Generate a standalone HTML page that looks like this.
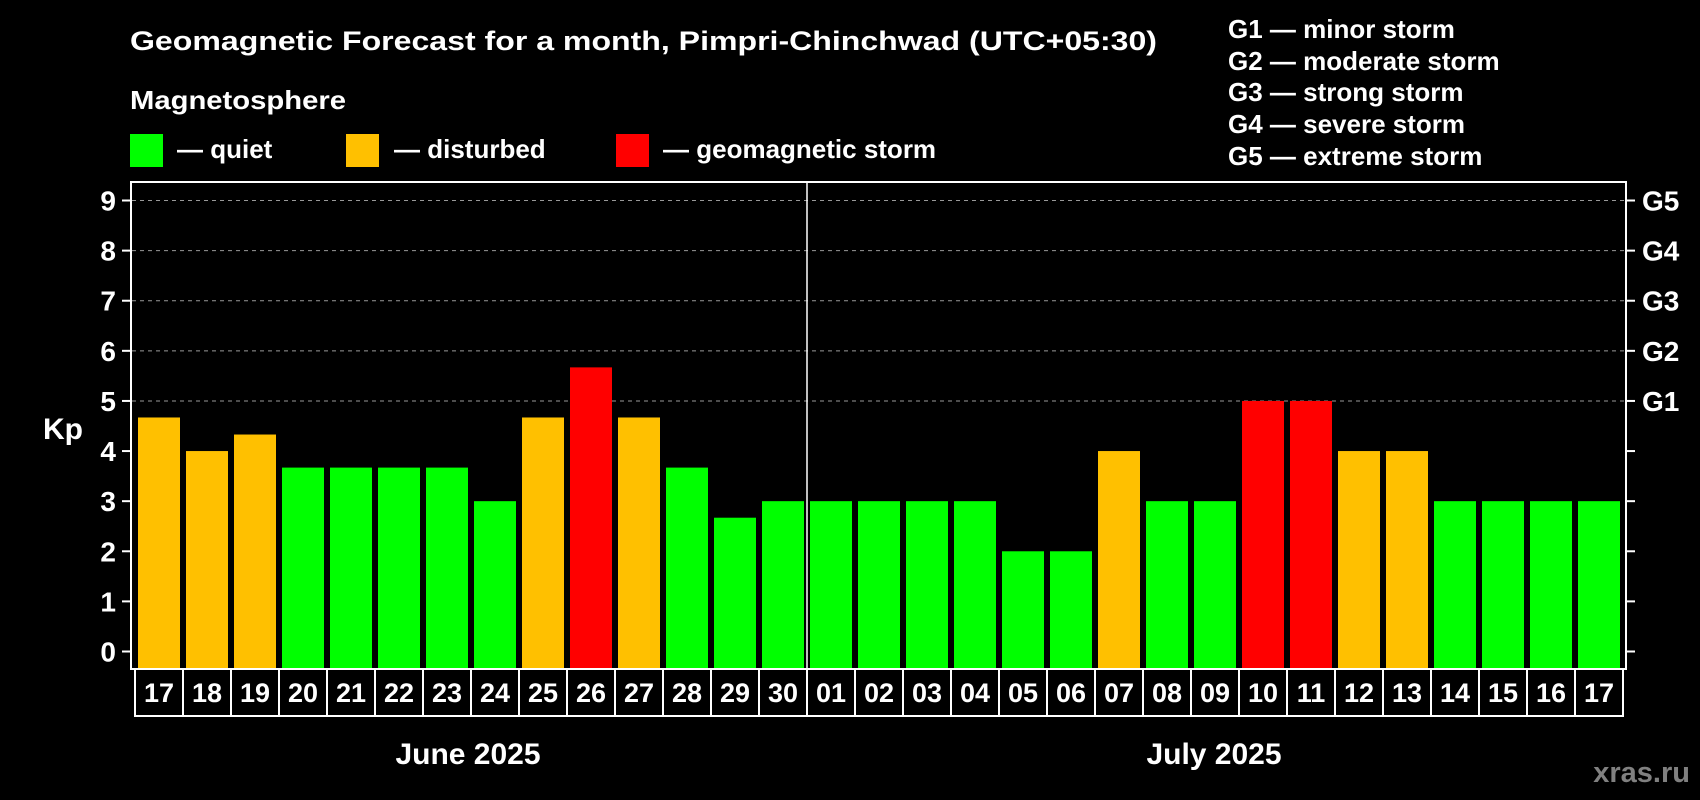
<!DOCTYPE html>
<html><head><meta charset="utf-8"><style>
html,body{margin:0;padding:0;background:#000;}
svg{display:block;font-family:"Liberation Sans",Arial,sans-serif;font-weight:bold;}
</style></head><body>
<svg id="chart" width="1700" height="800" viewBox="0 0 1700 800" xmlns="http://www.w3.org/2000/svg">
<rect x="0" y="0" width="1700" height="800" fill="#000"/>
<text x="130" y="50" fill="#fff" font-size="27" textLength="1027" lengthAdjust="spacingAndGlyphs">Geomagnetic Forecast for a month, Pimpri-Chinchwad (UTC+05:30)</text>
<text x="130" y="109" fill="#fff" font-size="26" textLength="216" lengthAdjust="spacingAndGlyphs">Magnetosphere</text>
<g>
<rect x="130" y="134" width="33" height="33" fill="#00ff00"/>
<text x="177" y="158" fill="#fff" font-size="26">— quiet</text></g>
<g>
<rect x="346" y="134" width="33" height="33" fill="#ffc000"/>
<text x="394" y="158" fill="#fff" font-size="26">— disturbed</text></g>
<g>
<rect x="616" y="134" width="33" height="33" fill="#ff0000"/>
<text x="663" y="158" fill="#fff" font-size="26">— geomagnetic storm</text></g>
<g fill="#fff" font-size="26">
<text x="1228" y="38">G1 — minor storm</text>
<text x="1228" y="70">G2 — moderate storm</text>
<text x="1228" y="101">G3 — strong storm</text>
<text x="1228" y="133">G4 — severe storm</text>
<text x="1228" y="165">G5 — extreme storm</text>
</g>
<g id="grid"></g>
<g id="bars"></g>
<rect x="131" y="182" width="1495" height="487" fill="none" stroke="#fff" stroke-width="2"/>
<g id="axes"></g>
<text x="43" y="439" fill="#fff" font-size="30">Kp</text>
<text x="468" y="764" fill="#fff" font-size="30" text-anchor="middle">June 2025</text>
<text x="1214" y="764" fill="#fff" font-size="30" text-anchor="middle">July 2025</text>
<text x="1690" y="782" fill="#808080" font-size="29" text-anchor="end">xras.ru</text>
</svg>
<script>
const days = ["17","18","19","20","21","22","23","24","25","26","27","28","29","30","01","02","03","04","05","06","07","08","09","10","11","12","13","14","15","16","17"];
const kpValues = [4.67,4,4.33,3.67,3.67,3.67,3.67,3,4.67,5.67,4.67,3.67,2.67,3,3,3,3,3,2,2,4,3,3,5,5,4,4,3,3,3,3];
const yTicks = [0,1,2,3,4,5,6,7,8,9];
const gLabels = ["G1","G2","G3","G4","G5"];
const NS="http://www.w3.org/2000/svg";
const y0=651.5, unit=(651.5-200.5)/9, x0=138, step=48, bw=42, bottom=669;
const yS=v=>y0-v*unit;
const xS=i=>x0+i*step;
function mk(tag,attrs,parent){const e=document.createElementNS(NS,tag);for(const k in attrs)e.setAttribute(k,attrs[k]);parent.appendChild(e);return e;}
const grid=document.getElementById('grid'),bars=document.getElementById('bars'),axes=document.getElementById('axes');
function color(v){return v>=5?"#ff0000":(v>=4?"#ffc000":"#00ff00");}
yTicks.forEach(t=>{
  const y=yS(t);
  if(t>=5){const l=mk('line',{x1:132,x2:1625,y1:y,y2:y,stroke:'#999','stroke-width':1,'stroke-dasharray':'4,4'},grid);
  
  }
  const a=mk('line',{x1:122,x2:131,y1:y,y2:y,stroke:'#fff','stroke-width':2},axes);
  
  
  const b=mk('line',{x1:1626,x2:1635,y1:y,y2:y,stroke:'#fff','stroke-width':2},axes);
  
  
  const tx=mk('text',{x:116,y:y+10,fill:'#fff','font-size':28,'text-anchor':'end'},axes);
  tx.textContent=t;
  
  
});
gLabels.forEach((g,i)=>{
  const tx=mk('text',{x:1642,y:yS(5+i)+10,fill:'#fff','font-size':28},axes);
  tx.textContent=g;
  
  
});
kpValues.forEach((v,i)=>{
  const r=mk('rect',{x:xS(i),y:yS(v),width:bw,height:bottom-yS(v),fill:color(v)},bars);
  
  
});
const div=mk('line',{x1:xS(14)-3,x2:xS(14)-3,y1:182,y2:669,stroke:'#fff','stroke-width':1.5},axes);


days.forEach((d,i)=>{
  const bx=135+i*step;
  const r=mk('rect',{x:bx,y:669,width:step,height:47,fill:'none',stroke:'#fff','stroke-width':2},axes);
  
  
  const t=mk('text',{x:bx+step/2,y:702,fill:'#fff','font-size':27,'text-anchor':'middle'},axes);
  t.textContent=d;
  
  
});
</script>
</body></html>
